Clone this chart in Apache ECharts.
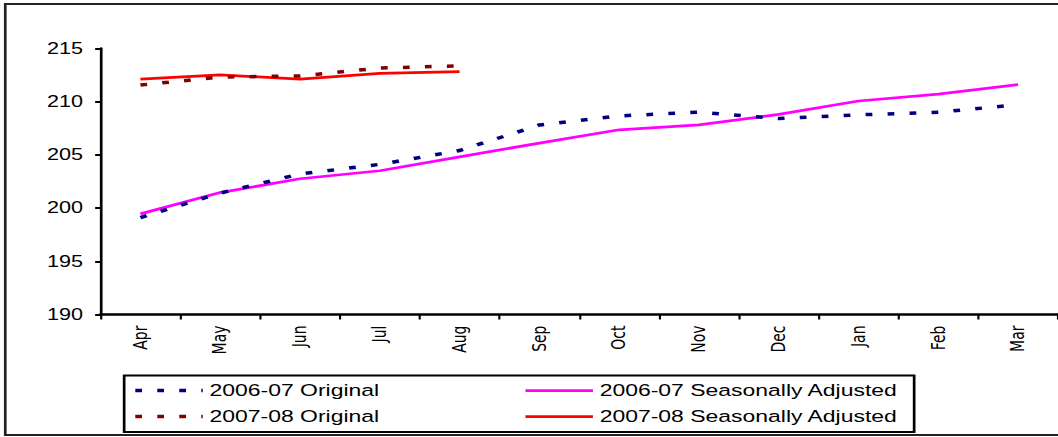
<!DOCTYPE html>
<html>
<head>
<meta charset="utf-8">
<script src="https://cdn.jsdelivr.net/npm/echarts@6/dist/echarts.min.js"></script>
<style>
  html, body { margin: 0; padding: 0; background: #ffffff; overflow: hidden; }
  /* The chart is laid out on a narrower canvas and widened, giving the broad lettering of the sheet */
  #chart { width: 784px; height: 437px; transform: scaleX(1.3495); transform-origin: 0 0; }
</style>
</head>
<body>
<div id="chart"></div>
<script>
// Months of the financial year
const months = ['Apr', 'May', 'Jun', 'Jul', 'Aug', 'Sep', 'Oct', 'Nov', 'Dec', 'Jan', 'Feb', 'Mar'];

// Index values
const original0607 = [199.1, 201.4, 203.2, 204.1, 205.4, 207.8, 208.65, 209.0, 208.4, 208.75, 209.0, 209.7];
const adjusted0607 = [199.45, 201.45, 202.75, 203.5, 204.8, 206.1, 207.35, 207.8, 208.8, 210.05, 210.7, 211.6];
const original0708 = [211.55, 212.3, 212.4, 213.15, 213.35];
const adjusted0708 = [212.1, 212.5, 212.1, 212.65, 212.8];

// Value axis
const yMin = 190;
const yMax = 215;
const yStep = 5;

const seriesNames = {
  o0607: '2006-07 Original',
  a0607: '2006-07 Seasonally Adjusted',
  o0708: '2007-08 Original',
  a0708: '2007-08 Seasonally Adjusted'
};

const colors = {
  o0607: '#000080',
  a0607: '#ff00ff',
  o0708: '#800000',
  a0708: '#ff0000'
};

const dots = [5, 11.3];
const dottedWidth = 3.5;
const solidWidth = 2.75;
const sansFont = '"Liberation Sans", Arial, sans-serif';

const chart = echarts.init(document.getElementById('chart'), null, { renderer: 'svg' });

const legendCommon = {
  orient: 'vertical',
  top: 382,
  padding: 0,
  itemWidth: 50,
  itemHeight: 14,
  itemGap: 9,
  itemStyle: { opacity: 0 },
  textStyle: { fontFamily: sansFont, fontSize: 17, color: '#000', lineHeight: 17 },
  selectedMode: false
};

function legendEntry(key, dotted) {
  return {
    name: seriesNames[key],
    lineStyle: dotted
      ? { color: colors[key], width: dottedWidth, type: dots, cap: 'butt' }
      : { color: colors[key], width: solidWidth, type: 'solid' }
  };
}

function lineSeries(key, values, dotted) {
  return {
    name: seriesNames[key],
    type: 'line',
    data: values,
    symbol: 'none',
    lineStyle: dotted
      ? { color: colors[key], width: dottedWidth, type: dots, cap: 'butt' }
      : { color: colors[key], width: solidWidth },
    itemStyle: { color: colors[key] },
    z: dotted ? 3 : 2
  };
}

chart.setOption({
  animation: false,
  backgroundColor: '#ffffff',
  grid: { left: 74.5, top: 48.3, width: 715, height: 266.2, containLabel: false },
  xAxis: {
    type: 'category',
    data: months,
    boundaryGap: true,
    axisLine: { lineStyle: { color: '#000', width: 2.5 } },
    axisTick: { show: true, length: 5, lineStyle: { color: '#000', width: 1.6 } },
    axisLabel: {
      rotate: 90,
      margin: 11,
      fontFamily: '"DejaVu Sans", sans-serif',
      fontSize: 14,
      color: '#000',
      interval: 0
    },
    splitLine: { show: false }
  },
  yAxis: {
    type: 'value',
    min: yMin,
    max: yMax,
    interval: yStep,
    axisLine: { show: true, lineStyle: { color: '#000', width: 2 } },
    axisTick: { show: true, length: 4, lineStyle: { color: '#000', width: 2 } },
    axisLabel: { margin: 13, fontFamily: sansFont, fontSize: 16, color: '#000' },
    splitLine: { show: false }
  },
  legend: [
    Object.assign({}, legendCommon, { left: 98.5, data: [legendEntry('o0607', true), legendEntry('o0708', true)] }),
    Object.assign({}, legendCommon, { left: 388, data: [legendEntry('a0607', false), legendEntry('a0708', false)] })
  ],
  graphic: [
    {
      type: 'rect',
      shape: { x: 3.9, y: 4, width: 900, height: 431 },
      style: { fill: 'none', stroke: '#222', lineWidth: 2 },
      silent: true,
      z: -1
    },
    {
      type: 'rect',
      shape: { x: 92, y: 375.5, width: 585.4, height: 56.5 },
      style: { fill: 'none', stroke: '#000', lineWidth: 2 },
      silent: true
    }
  ],
  series: [
    lineSeries('a0607', adjusted0607, false),
    lineSeries('a0708', adjusted0708, false),
    lineSeries('o0607', original0607, true),
    lineSeries('o0708', original0708, true)
  ]
});
</script>
</body>
</html>
